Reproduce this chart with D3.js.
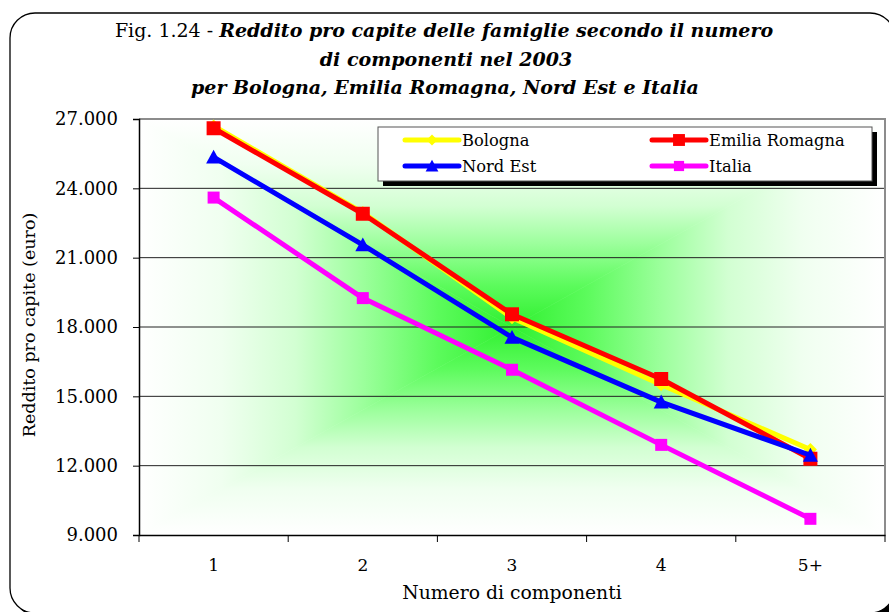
<!DOCTYPE html>
<html>
<head>
<meta charset="utf-8">
<script src="https://cdn.jsdelivr.net/npm/d3@7"></script>
<style>
  html, body { margin: 0; padding: 0; background: #fff; }
  svg { display: block; }
</style>
</head>
<body>
<svg id="chart" width="889" height="612"></svg>
<script>
// ---- data ----
const categories = ["1", "2", "3", "4", "5+"];
const bologna = [26700, 22950, 18400, 15500, 12700];
const emiliaRomagna = [26600, 22900, 18550, 15750, 12300];
const nordEst = [25350, 21550, 17550, 14750, 12450];
const italia = [23600, 19250, 16150, 12900, 9700];
const yTicks = [9000, 12000, 15000, 18000, 21000, 24000, 27000];
const seriesNames = ["Bologna", "Emilia Romagna", "Nord Est", "Italia"];

const series = [
  { name: seriesNames[0], values: bologna, color: "#ffff00", marker: "diamond", size: 13 },
  { name: seriesNames[1], values: emiliaRomagna, color: "#ff0000", marker: "square", size: 14 },
  { name: seriesNames[2], values: nordEst, color: "#0000ff", marker: "triangle", size: 15 },
  { name: seriesNames[3], values: italia, color: "#ff00ff", marker: "square", size: 12 }
];

const svg = d3.select("#chart");
const serif = "'DejaVu Serif', Georgia, serif";

// ---- outer frame ----
svg.append("rect").attr("x", 14).attr("y", 17).attr("width", 885).attr("height", 600)
  .attr("rx", 25).attr("fill", "#000");
svg.append("rect").attr("x", 10).attr("y", 13).attr("width", 885).attr("height", 600)
  .attr("rx", 25).attr("fill", "#fff").attr("stroke", "#000").attr("stroke-width", 1.3);

// ---- plot area ----
const x0 = 139, x1 = 885, y0 = 119, y1 = 535;
const x = d3.scaleBand().domain(categories).range([x0, x1]);
const y = d3.scaleLinear().domain([9000, 27000]).range([y1, y0]);

// rectangular "from center" gradient background
const defs = svg.append("defs");
const cx = (x0 + x1) / 2, cy = (y0 + y1) / 2;
const stops = [[0, "#30f030"], [0.2, "#5cfb5c"], [0.4, "#9cff9c"], [0.58, "#d2ffd2"], [0.78, "#f0fff0"], [1, "#ffffff"]];
const tris = [
  { id: "gT", pts: [[x0, y0], [x1, y0], [cx, cy]], to: [cx, y0] },
  { id: "gB", pts: [[x0, y1], [x1, y1], [cx, cy]], to: [cx, y1] },
  { id: "gL", pts: [[x0, y0], [x0, y1], [cx, cy]], to: [x0, cy] },
  { id: "gR", pts: [[x1, y0], [x1, y1], [cx, cy]], to: [x1, cy] }
];
tris.forEach(t => {
  const g = defs.append("linearGradient").attr("id", t.id).attr("gradientUnits", "userSpaceOnUse")
    .attr("x1", cx).attr("y1", cy).attr("x2", t.to[0]).attr("y2", t.to[1]);
  stops.forEach(s => g.append("stop").attr("offset", s[0]).attr("stop-color", s[1]));
  svg.append("polygon").attr("points", t.pts.map(p => p.join(",")).join(" "))
    .attr("fill", `url(#${t.id})`).attr("stroke", `url(#${t.id})`).attr("stroke-width", 0.6);
});

// gridlines
svg.append("g").selectAll("line").data(yTicks.filter(v => v > 9000 && v < 27000)).join("line")
  .attr("x1", x0).attr("x2", x1).attr("y1", d => y(d)).attr("y2", d => y(d))
  .attr("stroke", "#222").attr("stroke-width", 1);

// plot border (gray top/right)
svg.append("path").attr("d", `M${x0},${y0}H${x1}V${y1}`).attr("fill", "none")
  .attr("stroke", "#8c8c8c").attr("stroke-width", 2);

// y axis
const yAxis = d3.axisLeft(y).tickValues(yTicks).tickSize(6).tickPadding(15)
  .tickFormat(d => d3.format(",")(d).replace(/,/g, "."));
const gy = svg.append("g").attr("transform", `translate(${x0},0)`).call(yAxis);
gy.select(".domain").attr("stroke", "#000").attr("stroke-width", 1.5);
gy.selectAll(".tick line").attr("stroke", "#000");
gy.selectAll("text").attr("font-family", serif).attr("font-size", 18).attr("fill", "#000");

// x axis
const xAxis = d3.axisBottom(x).tickSize(0).tickPadding(24);
const gx = svg.append("g").attr("transform", `translate(0,${y1})`).call(xAxis);
gx.select(".domain").attr("stroke", "#000").attr("stroke-width", 1.5);
gx.selectAll("text").attr("font-family", serif).attr("font-size", 17).attr("fill", "#000");
const boundaries = categories.map(c => x(c)).concat([x1]);
gx.selectAll(".bnd").data(boundaries).join("line").attr("class", "bnd")
  .attr("x1", d => d).attr("x2", d => d).attr("y1", 0).attr("y2", 7)
  .attr("stroke", "#000").attr("stroke-width", 1);

// ---- markers ----
function markerPath(type, s) {
  const h = s / 2;
  if (type === "square") return `M${-h},${-h}H${h}V${h}H${-h}Z`;
  if (type === "diamond") return `M0,${-h}L${h},0L0,${h}L${-h},0Z`;
  if (type === "triangle") return `M0,${-h}L${h},${h * 0.85}L${-h},${h * 0.85}Z`;
}

const line = d3.line().x((d, i) => x(categories[i]) + x.bandwidth() / 2).y(d => y(d));
series.forEach(s => {
  const g = svg.append("g");
  g.append("path").attr("d", line(s.values)).attr("fill", "none")
    .attr("stroke", s.color).attr("stroke-width", 5).attr("stroke-linejoin", "round");
  g.selectAll("path.m").data(s.values).join("path").attr("class", "m")
    .attr("transform", (d, i) => `translate(${x(categories[i]) + x.bandwidth() / 2},${y(d)})`)
    .attr("d", markerPath(s.marker, s.size)).attr("fill", s.color);
});

// ---- legend ----
const lg = svg.append("g");
lg.append("rect").attr("x", 383).attr("y", 132).attr("width", 494).attr("height", 54).attr("fill", "#000");
lg.append("rect").attr("x", 378).attr("y", 127).attr("width", 494).attr("height", 54)
  .attr("fill", "#fff").attr("stroke", "#555").attr("stroke-width", 1);
const legPos = [[405, 140], [652, 140], [405, 166], [652, 166]];
series.forEach((s, i) => {
  const [lx, ly] = legPos[i];
  lg.append("line").attr("x1", lx).attr("x2", lx + 54).attr("y1", ly).attr("y2", ly)
    .attr("stroke", s.color).attr("stroke-width", 5).attr("stroke-linecap", "round");
  lg.append("path").attr("transform", `translate(${lx + 27},${ly})`)
    .attr("d", markerPath(s.marker, s.size * 0.85)).attr("fill", s.color);
  lg.append("text").attr("x", lx + 57).attr("y", ly).attr("dy", "0.35em")
    .attr("font-family", serif).attr("font-size", 16.3).attr("fill", "#000").text(s.name);
});

// ---- titles ----
const t = svg.append("text").attr("text-anchor", "middle").attr("font-family", serif)
  .attr("font-size", 19).attr("fill", "#000");
const l1 = t.append("tspan").attr("x", 444).attr("y", 37);
l1.append("tspan").text("Fig. 1.24 - ");
l1.append("tspan").attr("font-weight", "bold").attr("font-style", "italic")
  .text("Reddito pro capite delle famiglie secondo il numero");
t.append("tspan").attr("x", 446).attr("y", 66).attr("font-weight", "bold").attr("font-style", "italic")
  .text("di componenti nel 2003");
t.append("tspan").attr("x", 445).attr("y", 94).attr("font-weight", "bold").attr("font-style", "italic")
  .text("per Bologna, Emilia Romagna, Nord Est e Italia");

svg.append("text").attr("transform", "translate(35,325) rotate(-90)").attr("text-anchor", "middle")
  .attr("font-family", serif).attr("font-size", 17.5).attr("fill", "#000")
  .text("Reddito pro capite (euro)");
svg.append("text").attr("x", 512).attr("y", 599).attr("text-anchor", "middle")
  .attr("font-family", serif).attr("font-size", 18.8).attr("fill", "#000")
  .text("Numero di componenti");
</script>
</body>
</html>
